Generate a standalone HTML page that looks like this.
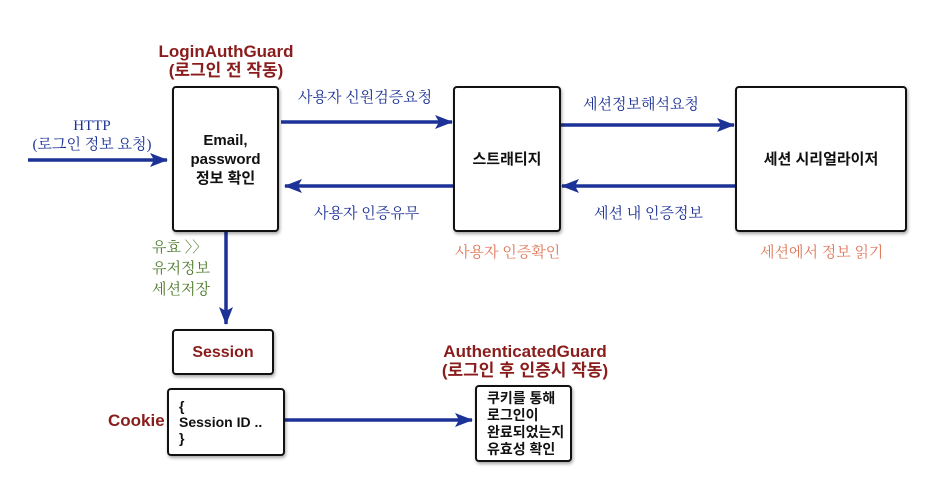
<!DOCTYPE html>
<html><head><meta charset="utf-8"><style>
body{margin:0;background:#fff;width:942px;height:484px;overflow:hidden;position:relative;font-family:"Liberation Sans","Noto Sans CJK KR",sans-serif}
.b{position:absolute;border:2px solid #111;border-radius:4px;background:#fff;box-shadow:1px 2px 3px rgba(0,0,0,.35);box-sizing:border-box;display:flex;align-items:center;justify-content:center;text-align:center;font-weight:bold;font-size:15px;color:#111;line-height:19px}
.t{position:absolute;white-space:nowrap;text-align:center;line-height:19px}
.red{color:#8a1c1c;font-weight:bold;font-size:17px}
.blue{color:#1d3296;font-size:15px;font-family:"Liberation Serif","Noto Serif CJK SC",serif}
.sal{color:#e0795c;font-size:15px;font-family:"Liberation Serif","Noto Serif CJK SC",serif}
.grn{color:#4d7b2c;font-size:15px;font-family:"Liberation Serif","Noto Serif CJK SC",serif;line-height:21px}
</style></head><body>
<svg width="942" height="484" style="position:absolute;left:0;top:0">
<defs><marker id="a" markerWidth="18" markerHeight="14" refX="17" refY="7" orient="auto" markerUnits="userSpaceOnUse"><path d="M0,0 L18,7 L0,14 L4,7z" fill="#1d3296"/></marker></defs>
<g stroke="#1d3296" stroke-width="3.5" fill="none" marker-end="url(#a)">
<line x1="28" y1="160" x2="167" y2="160"/>
<line x1="281" y1="122" x2="452" y2="122"/>
<line x1="456" y1="186" x2="285" y2="186"/>
<line x1="561" y1="125" x2="734" y2="125"/>
<line x1="735" y1="186" x2="562" y2="186"/>
<line x1="226" y1="232" x2="226" y2="324"/>
<line x1="285" y1="420" x2="472" y2="420"/>
</g></svg>
<div class="b" style="left:172px;top:86px;width:107px;height:146px">Email,<br>password<br>정보 확인</div>
<div class="b" style="left:453px;top:86px;width:108px;height:146px">스트래티지</div>
<div class="b" style="left:735px;top:86px;width:172px;height:146px">세션 시리얼라이저</div>
<div class="b" style="left:172px;top:329px;width:102px;height:46px;color:#8a1c1c;font-size:16px">Session</div>
<div class="b" style="left:167px;top:388px;width:118px;height:68px;justify-content:flex-start;text-align:left;padding-left:10px;font-size:14px;line-height:16px;font-weight:600">{<br>Session ID ..<br>}</div>
<div class="b" style="left:475px;top:385px;width:97px;height:77px;justify-content:flex-start;text-align:left;padding-left:10px;font-size:14px;line-height:17px">쿠키를 통해<br>로그인이<br>완료되었는지<br>유효성 확인</div>
<div class="t red" style="left:145px;top:42px;width:162px">LoginAuthGuard<br>(로그인 전 작동)</div>
<div class="t red" style="left:420px;top:342px;width:210px">AuthenticatedGuard<br>(로그인 후 인증시 작동)</div>
<div class="t red" style="left:108px;top:411px">Cookie</div>
<div class="t blue" style="left:22px;top:117px;width:140px">HTTP<br>(로그인 정보 요청)</div>
<div class="t blue" style="left:298px;top:89px">사용자 신원검증요청</div>
<div class="t blue" style="left:314px;top:205px">사용자 인증유무</div>
<div class="t blue" style="left:583px;top:96px">세션정보해석요청</div>
<div class="t blue" style="left:594px;top:205px">세션 내 인증정보</div>
<div class="t sal" style="left:455px;top:244px">사용자 인증확인</div>
<div class="t sal" style="left:760px;top:244px">세션에서 정보 읽기</div>
<div class="t grn" style="left:152px;top:238px;text-align:left">유효 〉〉<br>유저정보<br>세션저장</div>
</body></html>
